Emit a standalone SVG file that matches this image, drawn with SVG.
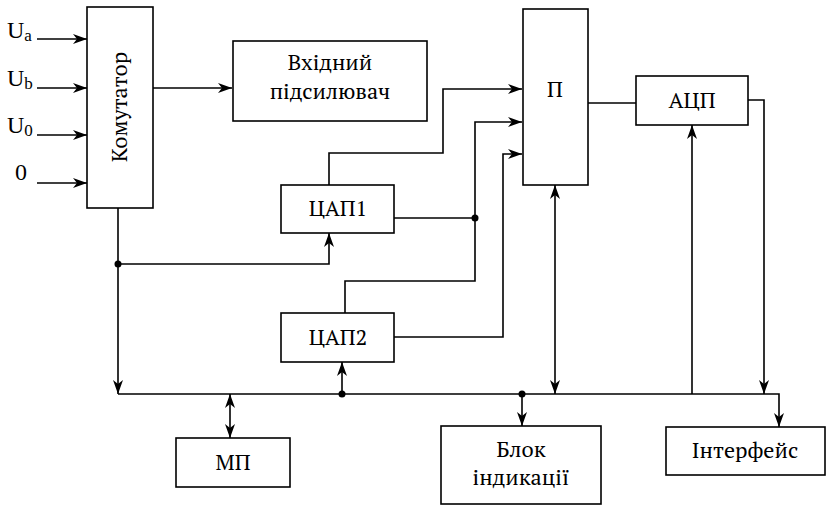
<svg xmlns="http://www.w3.org/2000/svg" width="829" height="506" viewBox="0 0 829 506">
<defs>
<style>
.box{fill:#fff;stroke:#000;stroke-width:1.6}
.t{text-anchor:middle;fill:#000}
.c{fill:none;stroke:#000;stroke-width:1.6}
.a{marker-end:url(#arr)}
.b{marker-start:url(#arr);marker-end:url(#arr)}
</style>
<marker id="arr" viewBox="0 0 14 10" refX="14" refY="5" markerWidth="14" markerHeight="10" markerUnits="userSpaceOnUse" orient="auto-start-reverse">
<path d="M0,0 L14,5 L0,10 L4,5 z" fill="#000"/>
</marker>
</defs>
<rect width="829" height="506" fill="#fff"/>
<g id="connectors">
<path class="c a" d="M37,39 H87"/>
<path class="c a" d="M37,88 H87"/>
<path class="c a" d="M37,135 H87"/>
<path class="c a" d="M37,183 H87"/>
<path class="c a" d="M153,88 H232"/>
<path class="c a" d="M329,185 V153 H443 V89 H522"/>
<path class="c" d="M394,218 H475"/>
<path class="c a" d="M475,218 V122 H522"/>
<path class="c" d="M475,218 V281 H345 V313"/>
<path class="c a" d="M394,337 H503 V154 H522"/>
<path class="c" d="M588,103 H636"/>
<path class="c a" d="M748,100 H764 V394"/>
<path class="c a" d="M118,394 H779 V427"/>
<path class="c a" d="M118,208 V394"/>
<path class="c a" d="M118,264 H329 V233"/>
<path class="c a" d="M342,394 V362"/>
<path class="c b" d="M230,394 V438"/>
<path class="c b" d="M555,394 V185"/>
<path class="c a" d="M692,394 V125"/>
<path class="c a" d="M522,394 V426"/>
<circle cx="118" cy="264" r="3.5"/>
<circle cx="475" cy="218" r="3.5"/>
<circle cx="342" cy="394" r="3.5"/>
<circle cx="522" cy="394" r="3.5"/>
</g>
<g id="inputs">
<text x="7" y="38" font-size="24" font-family="'Liberation Serif', serif">U<tspan font-size="17" dy="3">a</tspan></text>
<text x="7" y="86" font-size="24" font-family="'Liberation Serif', serif">U<tspan font-size="17" dy="3">b</tspan></text>
<text x="7" y="133" font-size="24" font-family="'Liberation Serif', serif">U<tspan font-size="17" dy="3">0</tspan></text>
<text class="t" x="21" y="180" font-size="24" font-family="'Liberation Serif', serif">0</text>
</g>
<g id="komutator">
<rect class="box" x="87" y="7" width="66" height="201"/>
<text class="t" transform="translate(127,107) rotate(-90)" font-size="22" font-family="'PT Serif', serif">Комутатор</text>
</g>
<g id="vkhidnyi">
<rect class="box" x="233" y="41" width="194" height="80"/>
<text class="t" x="330" y="70" font-size="22" font-family="'PT Serif', serif">Вхідний</text>
<text class="t" x="330" y="99" font-size="22" font-family="'PT Serif', serif">підсилювач</text>
</g>
<g id="P">
<rect class="box" x="523" y="9" width="65" height="176"/>
<text class="t" x="555" y="97" font-size="22" font-family="'PT Serif', serif">П</text>
</g>
<g id="ADC">
<rect class="box" x="636" y="76" width="112" height="49"/>
<text class="t" x="692" y="108" font-size="22" font-family="'PT Serif', serif">АЦП</text>
</g>
<g id="DAC1">
<rect class="box" x="281" y="185" width="113" height="48"/>
<text class="t" x="338" y="216" font-size="22" font-family="'PT Serif', serif">ЦАП1</text>
</g>
<g id="DAC2">
<rect class="box" x="281" y="313" width="113" height="49"/>
<text class="t" x="338" y="345" font-size="22" font-family="'PT Serif', serif">ЦАП2</text>
</g>
<g id="MP">
<rect class="box" x="176" y="438" width="114" height="49"/>
<text class="t" x="233" y="470" font-size="22" font-family="'PT Serif', serif">МП</text>
</g>
<g id="indication">
<rect class="box" x="441" y="426" width="160" height="78"/>
<text class="t" x="521" y="457" font-size="22" font-family="'PT Serif', serif">Блок</text>
<text class="t" x="521" y="485" font-size="22" font-family="'PT Serif', serif">індикації</text>
</g>
<g id="interface">
<rect class="box" x="666" y="427" width="159" height="48"/>
<text class="t" x="745" y="458" font-size="22" font-family="'PT Serif', serif">Інтерфейс</text>
</g>
</svg>
